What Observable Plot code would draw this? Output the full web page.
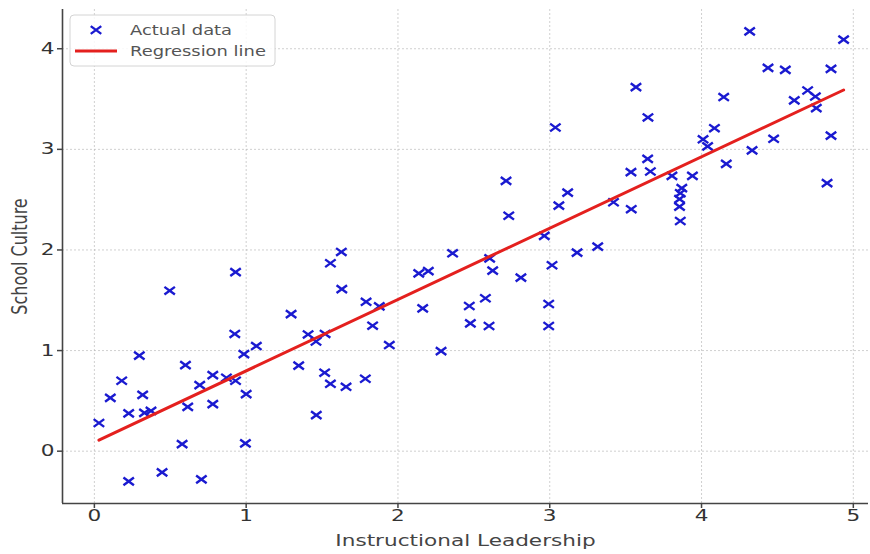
<!DOCTYPE html>
<html>
<head>
<meta charset="utf-8">
<script src="https://cdn.jsdelivr.net/npm/d3@7"></script>
<script src="https://cdn.jsdelivr.net/npm/@observablehq/plot@0.6"></script>
<style>
  body { margin: 0; background: #fff; }
  #chart { width: 870px; height: 554px; }
</style>
</head>
<body>
<div id="chart"></div>
<script>
// ---- Data ----
const leadership = [
  0.03, 0.105, 0.18, 0.226, 0.226, 0.296, 0.318, 0.33, 0.373, 0.446,
  0.496, 0.578, 0.60, 0.615, 0.694, 0.705, 0.78, 0.78, 0.87, 0.93,
  0.93, 0.925, 0.985, 1.0, 0.995, 1.067, 1.296, 1.346, 1.408, 1.46,
  1.52, 1.555, 1.627, 1.63, 1.517, 1.555, 1.658, 1.462, 1.785, 1.79,
  1.877, 1.833, 1.943, 2.137, 2.20, 2.163, 2.284, 2.36, 2.47, 2.477,
  2.576, 2.60, 2.604, 2.624, 2.81, 3.015, 2.993, 2.993, 3.18, 3.037,
  2.712, 2.73, 3.118, 3.06, 2.964, 3.316, 3.42, 3.537, 3.535, 3.568,
  3.647, 3.645, 3.663, 3.805, 3.87, 3.86, 3.855, 3.855, 3.86, 3.94,
  4.01, 4.04, 4.085, 4.146, 4.163, 4.317, 4.333, 4.438, 4.475, 4.552,
  4.611, 4.699, 4.75, 4.756, 4.853, 4.853, 4.827, 4.936
];
const culture = [
  0.28, 0.53, 0.70, 0.375, -0.30, 0.95, 0.56, 0.38, 0.40, -0.21,
  1.595, 0.07, 0.856, 0.44, 0.657, -0.28, 0.756, 0.468, 0.73, 0.70,
  1.78, 1.165, 0.965, 0.567, 0.077, 1.045, 1.363, 0.85, 1.16, 1.09,
  1.165, 1.868, 1.98, 1.61, 0.78, 0.67, 0.64, 0.358, 0.72, 1.485,
  1.44, 1.247, 1.055, 1.768, 1.79, 1.42, 0.995, 1.967, 1.443, 1.27,
  1.52, 1.244, 1.917, 1.794, 1.725, 1.848, 1.463, 1.244, 1.973, 3.217,
  2.687, 2.34, 2.57, 2.44, 2.14, 2.033, 2.474, 2.405, 2.773, 3.619,
  3.317, 2.905, 2.78, 2.736, 2.614, 2.564, 2.505, 2.43, 2.288, 2.736,
  3.10, 3.03, 3.21, 3.52, 2.856, 4.172, 2.99, 3.81, 3.105, 3.79,
  3.486, 3.585, 3.525, 3.41, 3.80, 3.137, 2.664, 4.09
];
const regIntercept = 0.0887;
const regSlope = 0.7093;
const xTicks = [0, 1, 2, 3, 4, 5];
const yTicks = [0, 1, 2, 3, 4];
const xDomain = [-0.21, 5.10];
const yDomain = [-0.52, 4.39];
const seriesNames = ["Actual data", "Regression line"];
const xLabel = "Instructional Leadership";
const yLabel = "School Culture";

// ---- Derived tables ----
const points = leadership.map((x, i) => ({x, y: culture[i]}));
const regression = d3.extent(leadership).map(x => ({x, y: regIntercept + regSlope * x}));

const blue = "#1a1ad0";
const red = "#e4201e";
const STRETCH = 1.35;

// horizontally wide "x" marker (the reference image is stretched sideways)
const wideTimes = {
  draw(ctx, size) {
    const r = Math.sqrt(size / Math.PI);
    const w = r * 1.25, h = r * 0.92;
    ctx.moveTo(-w, -h); ctx.lineTo(w, h);
    ctx.moveTo(w, -h); ctx.lineTo(-w, h);
  }
};

const plot = Plot.plot({
  width: 870,
  height: 554,
  marginLeft: 62,
  marginRight: 2,
  marginTop: 9,
  marginBottom: 51,
  x: {domain: xDomain},
  y: {domain: yDomain},
  style: {fontFamily: "DejaVu Sans", fontSize: "16px", color: "#333", background: "white"},
  marks: [
    Plot.gridX(xTicks, {stroke: "#b0b0b0", strokeOpacity: 0.6, strokeDasharray: "2,2"}),
    Plot.gridY(yTicks, {stroke: "#b0b0b0", strokeOpacity: 0.6, strokeDasharray: "2,2"}),
    Plot.ruleX([xDomain[0]], {stroke: "#444", strokeWidth: 1.6}),
    Plot.ruleY([yDomain[0]], {stroke: "#444", strokeWidth: 1.6}),
    Plot.axisX(xTicks, {tickSize: 5, tickPadding: 1, label: null, stroke: "#444", strokeWidth: 1.5, fill: "#333", tickFormat: d => String(d)}),
    Plot.axisY(yTicks, {tickSize: 5, tickPadding: 3, label: null, stroke: "#444", strokeWidth: 1.5, fill: "#333", tickFormat: d => String(d)}),
    Plot.dot(points, {x: "x", y: "y", symbol: wideTimes, r: 4.2, stroke: blue, fill: "none", strokeWidth: 2.4}),
    Plot.line(regression, {x: "x", y: "y", stroke: red, strokeWidth: 3}),
    Plot.text([xLabel], {frameAnchor: "bottom", dy: 37, lineAnchor: "middle", textAnchor: "middle", fill: "#444", fontSize: 16}),
    Plot.text([yLabel], {frameAnchor: "left", dx: -42, rotate: -90, lineAnchor: "middle", textAnchor: "middle", fill: "#444", fontSize: 16})
  ]
});

// stretch the texts sideways like in the reference
plot.querySelectorAll("text").forEach(t => {
  const tr = t.getAttribute("transform") || "";
  t.setAttribute("transform", tr + (tr.includes("rotate") ? ` scale(1,${STRETCH})` : ` scale(${STRETCH},1)`));
});

// legend box inside the plot (upper left)
const svg = d3.select(plot);
const lg = svg.append("g").attr("font-family", "DejaVu Sans").attr("font-size", 14).attr("text-anchor", "start");
lg.append("rect").attr("x", 70).attr("y", 15).attr("width", 205).attr("height", 51)
  .attr("rx", 4).attr("fill", "white").attr("fill-opacity", 0.85).attr("stroke", "#d4d4d4");
lg.append("path").attr("d", d3.symbol(wideTimes, Math.PI * 4.2 * 4.2)())
  .attr("transform", "translate(96,30)").attr("stroke", blue).attr("stroke-width", 2.4).attr("fill", "none");
lg.append("line").attr("x1", 75).attr("x2", 117).attr("y1", 51).attr("y2", 51)
  .attr("stroke", red).attr("stroke-width", 3);
seriesNames.forEach((name, i) => {
  lg.append("text").attr("transform", `translate(130,${30 + i * 21}) scale(1.28,1)`)
    .attr("dy", "0.35em").attr("fill", "#555").text(name);
});

document.getElementById("chart").appendChild(plot);
</script>
</body>
</html>
